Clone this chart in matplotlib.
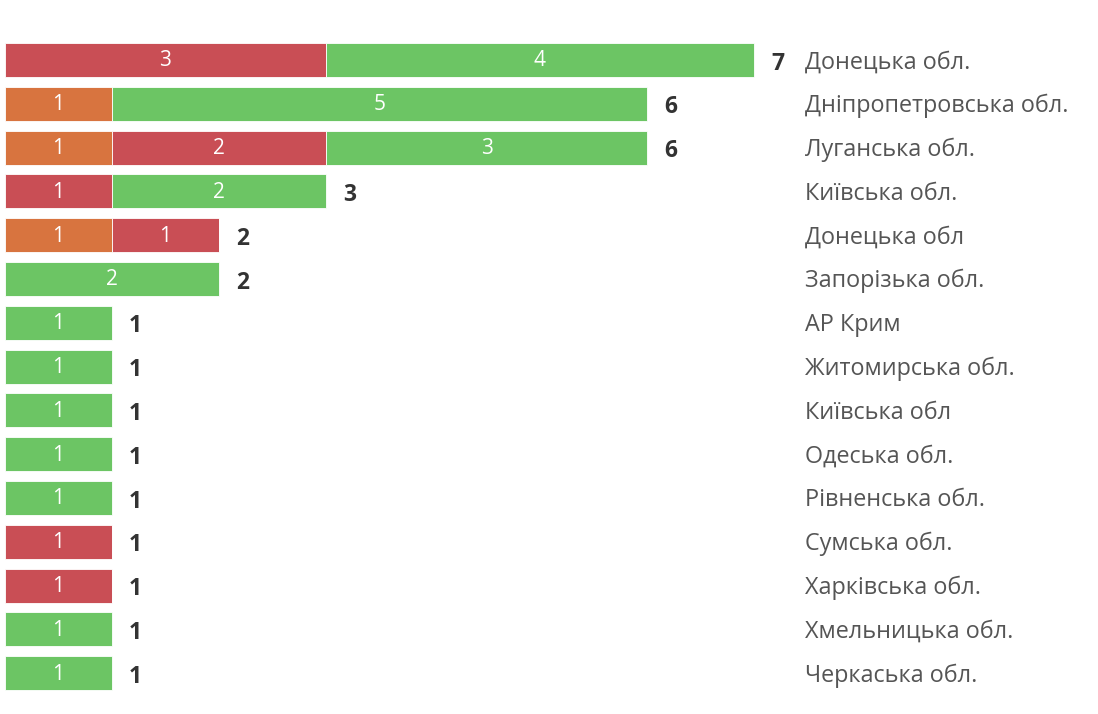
import matplotlib
matplotlib.use("Agg")
from matplotlib import pyplot as plt

# regions, top to bottom
regions = ["Донецька обл.", "Дніпропетровська обл.", "Луганська обл.", "Київська обл.",
           "Донецька обл", "Запорізька обл.", "АР Крим", "Житомирська обл.",
           "Київська обл", "Одеська обл.", "Рівненська обл.", "Сумська обл.",
           "Харківська обл.", "Хмельницька обл.", "Черкаська обл."]

# stacked segments (left to right: orange, red, green)
orange = [0, 1, 1, 0, 1, 0, 0, 0, 0, 0, 0, 0, 0, 0, 0]
red = [3, 0, 2, 1, 1, 0, 0, 0, 0, 0, 0, 1, 1, 0, 0]
green = [4, 5, 3, 2, 0, 2, 1, 1, 1, 1, 1, 0, 0, 1, 1]

colors = ["#D8743F", "#C94E55", "#6CC564"]

fig = plt.figure(figsize=(10.98, 7.14), dpi=100)
ax = fig.add_axes([0, 0, 1, 1])
unit = 107.0
row = 43.8
ax.set_xlim(-5 / unit, (1098 - 5) / unit)
ax.set_ylim((714 - 60) / row, -60 / row)
ax.axis("off")

ys = list(range(len(regions)))
left = [0] * len(regions)
for series, col in zip([orange, red, green], colors):
    ax.barh(ys, series, left=left, height=0.78, color=col,
            edgecolor="white", linewidth=0.6)
    for y, v, l in zip(ys, series, left):
        if v > 0:
            ax.text(l + v / 2, y + 0.02, str(v), ha="center", va="center",
                    color="white", fontsize=15, family="Open Sans")
    left = [l + v for l, v in zip(left, series)]

for y, tot, name in zip(ys, left, regions):
    ax.text(tot + 17 / unit, y + 0.08, str(tot), ha="left", va="center",
            color="#333333", fontsize=16.5, fontweight="bold", family="Open Sans")
    ax.text((805 - 5) / unit, y + 0.05, name, ha="left", va="center",
            color="#555555", fontsize=16.8, family="Open Sans")

fig.savefig("out.png", dpi=100)
